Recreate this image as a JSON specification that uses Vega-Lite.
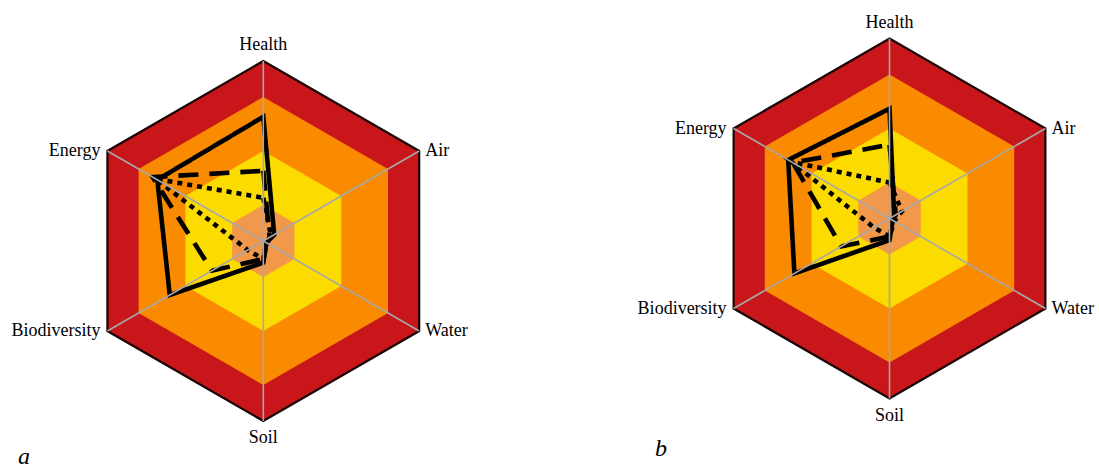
{
  "$schema": "https://vega.github.io/schema/vega-lite/v6.json",
  "padding": 0,
  "autosize": {"type": "pad"},
  "background": "white",
  "config": {
    "view": {"stroke": null},
    "text": {"font": "Liberation Serif", "fontSize": 18, "color": "black"}
  },
  "datasets": {
    "axes": [
      {"axis": "Health", "idx": 0},
      {"axis": "Air", "idx": 1},
      {"axis": "Water", "idx": 2},
      {"axis": "Soil", "idx": 3},
      {"axis": "Biodiversity", "idx": 4},
      {"axis": "Energy", "idx": 5}
    ],
    "bands": [
      {"zone": "very high", "limit": 100, "idx": 0}, {"zone": "very high", "limit": 100, "idx": 1},
      {"zone": "very high", "limit": 100, "idx": 2}, {"zone": "very high", "limit": 100, "idx": 3},
      {"zone": "very high", "limit": 100, "idx": 4}, {"zone": "very high", "limit": 100, "idx": 5},
      {"zone": "high", "limit": 80, "idx": 0}, {"zone": "high", "limit": 80, "idx": 1},
      {"zone": "high", "limit": 80, "idx": 2}, {"zone": "high", "limit": 80, "idx": 3},
      {"zone": "high", "limit": 80, "idx": 4}, {"zone": "high", "limit": 80, "idx": 5},
      {"zone": "moderate", "limit": 50, "idx": 0}, {"zone": "moderate", "limit": 50, "idx": 1},
      {"zone": "moderate", "limit": 50, "idx": 2}, {"zone": "moderate", "limit": 50, "idx": 3},
      {"zone": "moderate", "limit": 50, "idx": 4}, {"zone": "moderate", "limit": 50, "idx": 5},
      {"zone": "low", "limit": 20, "idx": 0}, {"zone": "low", "limit": 20, "idx": 1},
      {"zone": "low", "limit": 20, "idx": 2}, {"zone": "low", "limit": 20, "idx": 3},
      {"zone": "low", "limit": 20, "idx": 4}, {"zone": "low", "limit": 20, "idx": 5}
    ],
    "scores": [
      {"panel": "a", "series": "S1", "axis": "Health", "idx": 0, "value": 69},
      {"panel": "a", "series": "S1", "axis": "Air", "idx": 1, "value": 7},
      {"panel": "a", "series": "S1", "axis": "Water", "idx": 2, "value": 2},
      {"panel": "a", "series": "S1", "axis": "Soil", "idx": 3, "value": 12},
      {"panel": "a", "series": "S1", "axis": "Biodiversity", "idx": 4, "value": 60},
      {"panel": "a", "series": "S1", "axis": "Energy", "idx": 5, "value": 68},
      {"panel": "a", "series": "S2", "axis": "Health", "idx": 0, "value": 39},
      {"panel": "a", "series": "S2", "axis": "Air", "idx": 1, "value": 4},
      {"panel": "a", "series": "S2", "axis": "Water", "idx": 2, "value": 2},
      {"panel": "a", "series": "S2", "axis": "Soil", "idx": 3, "value": 10},
      {"panel": "a", "series": "S2", "axis": "Biodiversity", "idx": 4, "value": 33},
      {"panel": "a", "series": "S2", "axis": "Energy", "idx": 5, "value": 71},
      {"panel": "a", "series": "S3", "axis": "Health", "idx": 0, "value": 24},
      {"panel": "a", "series": "S3", "axis": "Air", "idx": 1, "value": 5},
      {"panel": "a", "series": "S3", "axis": "Water", "idx": 2, "value": 2},
      {"panel": "a", "series": "S3", "axis": "Soil", "idx": 3, "value": 10},
      {"panel": "a", "series": "S3", "axis": "Biodiversity", "idx": 4, "value": 10},
      {"panel": "a", "series": "S3", "axis": "Energy", "idx": 5, "value": 69},
      {"panel": "b", "series": "S1", "axis": "Health", "idx": 0, "value": 61},
      {"panel": "b", "series": "S1", "axis": "Air", "idx": 1, "value": 3},
      {"panel": "b", "series": "S1", "axis": "Water", "idx": 2, "value": 2},
      {"panel": "b", "series": "S1", "axis": "Soil", "idx": 3, "value": 12},
      {"panel": "b", "series": "S1", "axis": "Biodiversity", "idx": 4, "value": 61},
      {"panel": "b", "series": "S1", "axis": "Energy", "idx": 5, "value": 65},
      {"panel": "b", "series": "S2", "axis": "Health", "idx": 0, "value": 41},
      {"panel": "b", "series": "S2", "axis": "Air", "idx": 1, "value": 4},
      {"panel": "b", "series": "S2", "axis": "Water", "idx": 2, "value": 2},
      {"panel": "b", "series": "S2", "axis": "Soil", "idx": 3, "value": 10},
      {"panel": "b", "series": "S2", "axis": "Biodiversity", "idx": 4, "value": 31},
      {"panel": "b", "series": "S2", "axis": "Energy", "idx": 5, "value": 62},
      {"panel": "b", "series": "S3", "axis": "Health", "idx": 0, "value": 20},
      {"panel": "b", "series": "S3", "axis": "Air", "idx": 1, "value": 8},
      {"panel": "b", "series": "S3", "axis": "Water", "idx": 2, "value": 3},
      {"panel": "b", "series": "S3", "axis": "Soil", "idx": 3, "value": 10},
      {"panel": "b", "series": "S3", "axis": "Biodiversity", "idx": 4, "value": 10},
      {"panel": "b", "series": "S3", "axis": "Energy", "idx": 5, "value": 63}
    ]
  },
  "hconcat": [
    {
      "width": 549,
      "height": 470,
      "title": {"text": "a", "orient": "bottom", "anchor": "start", "frame": "group", "offset": -25, "dx": 18, "baseline": "top", "font": "Liberation Serif", "fontStyle": "italic", "fontWeight": "normal", "fontSize": 24, "color": "black"},
      "encoding": {
        "x": {"field": "px", "type": "quantitative", "axis": null, "scale": {"domain": [-146.28, 158.72], "nice": false, "zero": false}},
        "y": {"field": "py", "type": "quantitative", "axis": null, "scale": {"domain": [-127.22, 133.89], "nice": false, "zero": false}}
      },
      "layer": [
        {
          "data": {"name": "bands"},
          "transform": [
            {"filter": "datum.zone === 'very high'"},
            {"calculate": "datum.limit * sin(datum.idx * PI / 3)", "as": "px"},
            {"calculate": "datum.limit * cos(datum.idx * PI / 3)", "as": "py"}
          ],
          "mark": {"type": "line", "interpolate": "linear-closed", "fill": "#C8161B", "stroke": "#1A0505", "strokeWidth": 2.2, "strokeJoin": "miter"},
          "encoding": {"order": {"field": "idx", "type": "quantitative"}}
        },
        {
          "data": {"name": "bands"},
          "transform": [
            {"filter": "datum.zone === 'high'"},
            {"calculate": "datum.limit * sin(datum.idx * PI / 3)", "as": "px"},
            {"calculate": "datum.limit * cos(datum.idx * PI / 3)", "as": "py"}
          ],
          "mark": {"type": "line", "interpolate": "linear-closed", "fill": "#FA8A00", "strokeWidth": 0},
          "encoding": {"order": {"field": "idx", "type": "quantitative"}}
        },
        {
          "data": {"name": "bands"},
          "transform": [
            {"filter": "datum.zone === 'moderate'"},
            {"calculate": "datum.limit * sin(datum.idx * PI / 3)", "as": "px"},
            {"calculate": "datum.limit * cos(datum.idx * PI / 3)", "as": "py"}
          ],
          "mark": {"type": "line", "interpolate": "linear-closed", "fill": "#FCDC00", "strokeWidth": 0},
          "encoding": {"order": {"field": "idx", "type": "quantitative"}}
        },
        {
          "data": {"name": "bands"},
          "transform": [
            {"filter": "datum.zone === 'low'"},
            {"calculate": "datum.limit * sin(datum.idx * PI / 3)", "as": "px"},
            {"calculate": "datum.limit * cos(datum.idx * PI / 3)", "as": "py"}
          ],
          "mark": {"type": "line", "interpolate": "linear-closed", "fill": "#F2984A", "strokeWidth": 0},
          "encoding": {"order": {"field": "idx", "type": "quantitative"}}
        },
        {
          "data": {"name": "scores"},
          "transform": [
            {"filter": "datum.panel === 'a'"},
            {"calculate": "datum.value * sin(datum.idx * PI / 3)", "as": "px"},
            {"calculate": "datum.value * cos(datum.idx * PI / 3)", "as": "py"}
          ],
          "mark": {"type": "line", "interpolate": "linear-closed", "color": "black", "strokeWidth": 4.6, "strokeJoin": "miter", "strokeMiterLimit": 10},
          "encoding": {
            "order": {"field": "idx", "type": "quantitative"},
            "strokeDash": {"field": "series", "type": "nominal", "legend": null, "scale": {"domain": ["S1", "S2", "S3"], "range": [[1, 0], [20, 11], [5, 5]]}}
          }
        },
        {
          "data": {"name": "axes"},
          "transform": [
            {"calculate": "0", "as": "px"},
            {"calculate": "0", "as": "py"},
            {"calculate": "100 * sin(datum.idx * PI / 3)", "as": "ex"},
            {"calculate": "100 * cos(datum.idx * PI / 3)", "as": "ey"}
          ],
          "mark": {"type": "rule", "color": "#A8A8A8", "strokeWidth": 1.6},
          "encoding": {"x2": {"field": "ex"}, "y2": {"field": "ey"}}
        },
        {
          "data": {"name": "axes"},
          "transform": [
            {"filter": "datum.idx === 0"},
            {"calculate": "0", "as": "px"},
            {"calculate": "100", "as": "py"}
          ],
          "mark": {"type": "text", "align": "center", "baseline": "alphabetic", "dy": -11},
          "encoding": {"text": {"field": "axis"}}
        },
        {
          "data": {"name": "axes"},
          "transform": [
            {"filter": "datum.idx === 3"},
            {"calculate": "0", "as": "px"},
            {"calculate": "-100", "as": "py"}
          ],
          "mark": {"type": "text", "align": "center", "baseline": "top", "dy": 8},
          "encoding": {"text": {"field": "axis"}}
        },
        {
          "data": {"name": "axes"},
          "transform": [
            {"filter": "datum.idx === 1 || datum.idx === 2"},
            {"calculate": "100 * sin(datum.idx * PI / 3)", "as": "px"},
            {"calculate": "100 * cos(datum.idx * PI / 3)", "as": "py"}
          ],
          "mark": {"type": "text", "align": "left", "baseline": "middle", "dx": 6},
          "encoding": {"text": {"field": "axis"}}
        },
        {
          "data": {"name": "axes"},
          "transform": [
            {"filter": "datum.idx === 4 || datum.idx === 5"},
            {"calculate": "100 * sin(datum.idx * PI / 3)", "as": "px"},
            {"calculate": "100 * cos(datum.idx * PI / 3)", "as": "py"}
          ],
          "mark": {"type": "text", "align": "right", "baseline": "middle", "dx": -7},
          "encoding": {"text": {"field": "axis"}}
        }
      ]
    },
    {
      "width": 550,
      "height": 470,
      "title": {"text": "b", "orient": "bottom", "anchor": "start", "frame": "group", "offset": -33, "dx": 106, "baseline": "top", "font": "Liberation Serif", "fontStyle": "italic", "fontWeight": "normal", "fontSize": 24, "color": "black"},
      "encoding": {
        "x": {"field": "px", "type": "quantitative", "axis": null, "scale": {"domain": [-189.17, 116.39], "nice": false, "zero": false}},
        "y": {"field": "py", "type": "quantitative", "axis": null, "scale": {"domain": [-139.72, 121.39], "nice": false, "zero": false}}
      },
      "layer": [
        {
          "data": {"name": "bands"},
          "transform": [
            {"filter": "datum.zone === 'very high'"},
            {"calculate": "datum.limit * sin(datum.idx * PI / 3)", "as": "px"},
            {"calculate": "datum.limit * cos(datum.idx * PI / 3)", "as": "py"}
          ],
          "mark": {"type": "line", "interpolate": "linear-closed", "fill": "#C8161B", "stroke": "#1A0505", "strokeWidth": 2.2, "strokeJoin": "miter"},
          "encoding": {"order": {"field": "idx", "type": "quantitative"}}
        },
        {
          "data": {"name": "bands"},
          "transform": [
            {"filter": "datum.zone === 'high'"},
            {"calculate": "datum.limit * sin(datum.idx * PI / 3)", "as": "px"},
            {"calculate": "datum.limit * cos(datum.idx * PI / 3)", "as": "py"}
          ],
          "mark": {"type": "line", "interpolate": "linear-closed", "fill": "#FA8A00", "strokeWidth": 0},
          "encoding": {"order": {"field": "idx", "type": "quantitative"}}
        },
        {
          "data": {"name": "bands"},
          "transform": [
            {"filter": "datum.zone === 'moderate'"},
            {"calculate": "datum.limit * sin(datum.idx * PI / 3)", "as": "px"},
            {"calculate": "datum.limit * cos(datum.idx * PI / 3)", "as": "py"}
          ],
          "mark": {"type": "line", "interpolate": "linear-closed", "fill": "#FCDC00", "strokeWidth": 0},
          "encoding": {"order": {"field": "idx", "type": "quantitative"}}
        },
        {
          "data": {"name": "bands"},
          "transform": [
            {"filter": "datum.zone === 'low'"},
            {"calculate": "datum.limit * sin(datum.idx * PI / 3)", "as": "px"},
            {"calculate": "datum.limit * cos(datum.idx * PI / 3)", "as": "py"}
          ],
          "mark": {"type": "line", "interpolate": "linear-closed", "fill": "#F2984A", "strokeWidth": 0},
          "encoding": {"order": {"field": "idx", "type": "quantitative"}}
        },
        {
          "data": {"name": "scores"},
          "transform": [
            {"filter": "datum.panel === 'b'"},
            {"calculate": "datum.value * sin(datum.idx * PI / 3)", "as": "px"},
            {"calculate": "datum.value * cos(datum.idx * PI / 3)", "as": "py"}
          ],
          "mark": {"type": "line", "interpolate": "linear-closed", "color": "black", "strokeWidth": 4.6, "strokeJoin": "miter", "strokeMiterLimit": 10},
          "encoding": {
            "order": {"field": "idx", "type": "quantitative"},
            "strokeDash": {"field": "series", "type": "nominal", "legend": null, "scale": {"domain": ["S1", "S2", "S3"], "range": [[1, 0], [20, 11], [5, 5]]}}
          }
        },
        {
          "data": {"name": "axes"},
          "transform": [
            {"calculate": "0", "as": "px"},
            {"calculate": "0", "as": "py"},
            {"calculate": "100 * sin(datum.idx * PI / 3)", "as": "ex"},
            {"calculate": "100 * cos(datum.idx * PI / 3)", "as": "ey"}
          ],
          "mark": {"type": "rule", "color": "#A8A8A8", "strokeWidth": 1.6},
          "encoding": {"x2": {"field": "ex"}, "y2": {"field": "ey"}}
        },
        {
          "data": {"name": "axes"},
          "transform": [
            {"filter": "datum.idx === 0"},
            {"calculate": "0", "as": "px"},
            {"calculate": "100", "as": "py"}
          ],
          "mark": {"type": "text", "align": "center", "baseline": "alphabetic", "dy": -11},
          "encoding": {"text": {"field": "axis"}}
        },
        {
          "data": {"name": "axes"},
          "transform": [
            {"filter": "datum.idx === 3"},
            {"calculate": "0", "as": "px"},
            {"calculate": "-100", "as": "py"}
          ],
          "mark": {"type": "text", "align": "center", "baseline": "top", "dy": 8},
          "encoding": {"text": {"field": "axis"}}
        },
        {
          "data": {"name": "axes"},
          "transform": [
            {"filter": "datum.idx === 1 || datum.idx === 2"},
            {"calculate": "100 * sin(datum.idx * PI / 3)", "as": "px"},
            {"calculate": "100 * cos(datum.idx * PI / 3)", "as": "py"}
          ],
          "mark": {"type": "text", "align": "left", "baseline": "middle", "dx": 6},
          "encoding": {"text": {"field": "axis"}}
        },
        {
          "data": {"name": "axes"},
          "transform": [
            {"filter": "datum.idx === 4 || datum.idx === 5"},
            {"calculate": "100 * sin(datum.idx * PI / 3)", "as": "px"},
            {"calculate": "100 * cos(datum.idx * PI / 3)", "as": "py"}
          ],
          "mark": {"type": "text", "align": "right", "baseline": "middle", "dx": -7},
          "encoding": {"text": {"field": "axis"}}
        }
      ]
    }
  ],
  "spacing": 0,
  "bounds": "flush"
}
